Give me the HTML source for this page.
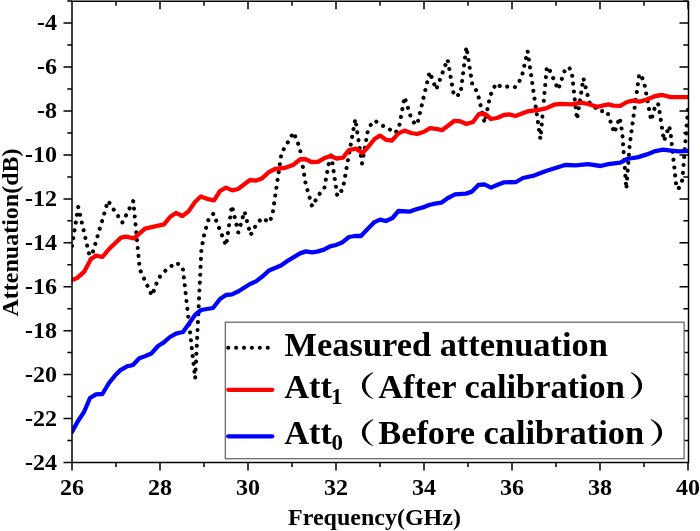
<!DOCTYPE html>
<html><head><meta charset="utf-8"><title>Attenuation</title>
<style>
html,body{margin:0;padding:0;background:#fff;}
svg{display:block;}
text{font-family:"Liberation Serif","Noto Serif CJK SC",serif;font-weight:bold;fill:#000;}
.tk{font-size:24px;}
.lg{font-size:34.4px;}
.sub{font-size:23px;}
.cj{font-family:"Noto Serif CJK SC","Liberation Serif",serif;font-weight:bold;font-size:34px;}
</style></head><body>
<svg width="700" height="531" viewBox="0 0 700 531">
<rect width="700" height="531" fill="#fff"/>
<defs><clipPath id="pa"><rect x="72" y="0" width="616" height="463"/></clipPath></defs>
<g clip-path="url(#pa)">

<polyline points="72.0,246.0 78.2,207.0 90.5,260.0 108.0,200.8 122.3,222.6 133.3,201.0 139.8,269.5 152.0,295.6 158.3,278.6 163.4,272.4 169.4,267.4 176.6,262.6 182.8,268.0 195.2,378.5 201.4,249.4 204.4,233.6 208.4,220.0 213.4,213.6 226.1,245.6 231.9,205.6 238.3,232.4 244.5,211.5 250.6,235.0 256.6,224.2 262.0,218.0 269.3,222.4 272.4,215.0 281.5,153.0 293.6,132.4 299.8,148.0 305.6,183.6 312.2,206.4 318.4,195.4 324.4,187.6 330.8,152.0 337.3,196.0 342.8,189.0 355.3,119.0 362.0,163.5 367.6,132.0 370.4,125.4 374.6,120.6 382.6,125.6 388.4,128.6 395.0,133.0 398.8,128.6 404.5,97.0 410.6,116.4 414.4,123.4 417.2,124.5 429.6,72.0 436.2,89.5 447.6,59.4 454.0,96.0 460.4,94.4 466.4,47.0 472.4,85.0 477.4,92.0 484.6,122.6 490.0,97.0 492.4,90.0 496.6,83.4 501.0,87.0 507.4,86.6 514.6,87.4 518.8,82.6 522.2,75.0 527.6,51.0 540.4,139.0 546.8,67.0 548.4,67.2 558.2,89.5 564.6,71.0 568.8,67.0 571.8,72.0 577.0,119.5 583.4,78.3 589.4,102.5 599.0,111.0 607.0,111.3 614.3,133.0 619.7,117.5 622.3,133.0 626.3,189.0 629.7,144.6 639.2,74.2 640.4,74.2 644.0,81.7 651.2,120.5 655.8,103.7 658.5,104.5 664.0,141.0 669.1,126.0 670.5,132.2 676.6,188.5 678.6,188.5 682.3,180.2 688.0,109.0" fill="none" stroke="#000" stroke-width="4.1" stroke-linecap="round" stroke-linejoin="round" stroke-dasharray="0.01 7.9"/>
<polyline points="72.0,280.0 77.0,278.0 84.0,272.0 91.0,259.0 96.0,255.6 102.4,257.0 109.0,249.0 121.0,237.6 126.0,236.6 134.0,238.4 145.0,228.6 164.0,224.4 170.0,217.0 176.0,213.0 182.4,216.0 188.4,211.6 195.0,202.0 200.7,196.5 207.0,198.8 214.0,200.4 220.0,191.0 226.0,187.6 232.4,190.4 238.0,189.0 250.0,180.0 256.0,180.6 262.0,178.4 269.0,172.0 275.0,169.0 286.0,167.6 293.0,165.0 300.0,159.5 305.0,159.0 311.5,162.0 318.0,161.8 324.0,158.3 330.5,156.0 336.5,158.5 343.0,157.6 349.0,150.0 356.0,148.6 362.5,153.0 368.5,146.5 374.5,139.0 380.0,135.6 386.0,139.8 392.0,140.5 398.5,133.4 404.4,130.6 411.0,133.0 417.0,134.0 423.6,132.0 430.0,128.2 436.0,128.8 442.0,130.2 448.0,125.8 454.0,121.0 460.0,121.2 466.5,124.0 473.0,122.0 479.0,114.0 485.0,114.0 491.0,119.0 497.0,118.0 504.0,115.0 509.0,114.4 515.5,116.0 528.0,111.3 540.5,109.5 546.0,108.4 554.0,104.7 561.0,103.8 572.0,104.4 581.0,102.6 588.0,104.0 597.0,106.8 608.3,104.4 613.4,105.7 620.3,105.8 627.0,102.0 633.0,100.6 639.5,101.6 646.9,99.5 655.4,96.0 662.3,95.0 670.9,97.1 688.0,97.1" fill="none" stroke="#ff0000" stroke-width="4.3" stroke-linecap="round" stroke-linejoin="round"/>
<polyline points="72.0,432.0 78.0,421.0 84.0,412.0 90.0,398.0 96.0,394.4 102.4,394.0 109.0,383.0 115.0,375.6 120.0,370.4 127.0,366.4 133.0,365.0 139.3,358.2 145.5,356.0 151.3,353.6 158.0,346.0 163.5,342.7 170.0,337.0 176.0,333.6 183.0,332.0 188.0,325.0 195.0,315.0 201.0,310.0 213.0,308.0 220.0,299.0 226.0,295.0 232.0,294.4 239.0,291.0 250.0,284.0 256.0,281.4 263.0,276.0 269.0,270.4 281.0,265.4 288.0,260.6 300.0,253.4 306.0,251.4 312.0,252.4 318.0,251.4 324.0,249.6 330.0,246.4 336.0,245.0 342.0,242.6 349.0,237.0 355.0,236.0 361.0,236.0 367.0,229.6 374.0,222.4 380.0,219.6 386.0,221.0 392.5,218.0 398.4,211.0 410.0,211.6 417.0,209.0 423.0,207.4 429.0,205.0 435.0,203.6 441.6,202.6 448.0,198.0 455.0,194.4 466.0,193.6 472.0,191.6 478.4,185.0 484.4,184.4 491.0,187.6 497.0,185.0 503.6,182.4 516.0,182.0 523.0,178.0 534.0,175.6 546.0,171.0 565.0,165.0 576.0,165.4 588.0,164.2 600.6,166.0 608.3,164.2 620.3,162.7 627.1,159.0 638.3,157.1 646.9,154.4 655.4,151.1 663.1,149.7 670.9,150.6 679.4,151.4 688.0,150.9" fill="none" stroke="#0000ff" stroke-width="4.3" stroke-linecap="round" stroke-linejoin="round"/>
</g>
<path d="M72.0,1.25H688.5V462.5H72.0ZM72.0,462.5h-8.5M688.0,462.5h-8.5M72.0,440.5h-4.7M688.0,440.5h-4.7M72.0,418.6h-8.5M688.0,418.6h-8.5M72.0,396.6h-4.7M688.0,396.6h-4.7M72.0,374.6h-8.5M688.0,374.6h-8.5M72.0,352.6h-4.7M688.0,352.6h-4.7M72.0,330.7h-8.5M688.0,330.7h-8.5M72.0,308.7h-4.7M688.0,308.7h-4.7M72.0,286.7h-8.5M688.0,286.7h-8.5M72.0,264.8h-4.7M688.0,264.8h-4.7M72.0,242.8h-8.5M688.0,242.8h-8.5M72.0,220.8h-4.7M688.0,220.8h-4.7M72.0,198.9h-8.5M688.0,198.9h-8.5M72.0,176.9h-4.7M688.0,176.9h-4.7M72.0,154.9h-8.5M688.0,154.9h-8.5M72.0,133.0h-4.7M688.0,133.0h-4.7M72.0,111.0h-8.5M688.0,111.0h-8.5M72.0,89.0h-4.7M688.0,89.0h-4.7M72.0,67.0h-8.5M688.0,67.0h-8.5M72.0,45.1h-4.7M688.0,45.1h-4.7M72.0,23.1h-8.5M688.0,23.1h-8.5M72.0,1.1h-4.7M688.0,1.1h-4.7M72.0,462.5v8M72.0,1.25v8M116.0,462.5v4.5M116.0,1.25v4.5M160.0,462.5v8M160.0,1.25v8M204.0,462.5v4.5M204.0,1.25v4.5M248.0,462.5v8M248.0,1.25v8M292.0,462.5v4.5M292.0,1.25v4.5M336.0,462.5v8M336.0,1.25v8M380.0,462.5v4.5M380.0,1.25v4.5M424.0,462.5v8M424.0,1.25v8M468.0,462.5v4.5M468.0,1.25v4.5M512.0,462.5v8M512.0,1.25v8M556.0,462.5v4.5M556.0,1.25v4.5M600.0,462.5v8M600.0,1.25v8M644.0,462.5v4.5M644.0,1.25v4.5M688.0,462.5v8M688.0,1.25v8" fill="none" stroke="#000" stroke-width="1.5"/>
<text class="tk" x="57" y="469.5" text-anchor="end">-24</text>
<text class="tk" x="57" y="425.6" text-anchor="end">-22</text>
<text class="tk" x="57" y="381.6" text-anchor="end">-20</text>
<text class="tk" x="57" y="337.7" text-anchor="end">-18</text>
<text class="tk" x="57" y="293.7" text-anchor="end">-16</text>
<text class="tk" x="57" y="249.8" text-anchor="end">-14</text>
<text class="tk" x="57" y="205.9" text-anchor="end">-12</text>
<text class="tk" x="57" y="161.9" text-anchor="end">-10</text>
<text class="tk" x="57" y="118.0" text-anchor="end">-8</text>
<text class="tk" x="57" y="74.0" text-anchor="end">-6</text>
<text class="tk" x="57" y="30.1" text-anchor="end">-4</text>
<text class="tk" x="72.0" y="495" text-anchor="middle">26</text>
<text class="tk" x="160.0" y="495" text-anchor="middle">28</text>
<text class="tk" x="248.0" y="495" text-anchor="middle">30</text>
<text class="tk" x="336.0" y="495" text-anchor="middle">32</text>
<text class="tk" x="424.0" y="495" text-anchor="middle">34</text>
<text class="tk" x="512.0" y="495" text-anchor="middle">36</text>
<text class="tk" x="600.0" y="495" text-anchor="middle">38</text>
<text class="tk" x="688.0" y="495" text-anchor="middle">40</text>
<text class="tk" x="374.5" y="524.5" text-anchor="middle">Frequency(GHz)</text>
<text class="tk" transform="translate(18,232.5) rotate(-90)" text-anchor="middle">Attenuation(dB)</text>
<rect x="225.3" y="322.2" width="458.8" height="136.5" fill="#fff" stroke="#666" stroke-width="1.25"/>
<line x1="228.2" y1="347.7" x2="270" y2="347.7" stroke="#000" stroke-width="4.1" stroke-linecap="round" stroke-dasharray="0.01 7.9"/>
<line x1="228.25" y1="389.8" x2="272.25" y2="389.8" stroke="#ff0000" stroke-width="4.3" stroke-linecap="round"/>
<line x1="228.25" y1="436.3" x2="272.25" y2="436.3" stroke="#0000ff" stroke-width="4.3" stroke-linecap="round"/>
<text class="lg" x="284.6" y="355.5">Measured attenuation</text>
<text class="lg" x="284.2" y="397.6">Att<tspan class="sub" x="331" dy="6.6">1</tspan></text>
<text class="cj" transform="translate(337.4,397.4) scale(1.12,0.83)">（</text>
<text class="lg" x="378.2" y="397.6">After calibration</text>
<text class="cj" transform="translate(628.6,397.4) scale(1.12,0.83)">）</text>
<text class="lg" x="284.2" y="444.4">Att<tspan class="sub" x="331.4" dy="5.8">0</tspan></text>
<text class="cj" transform="translate(337.4,444.2) scale(1.12,0.83)">（</text>
<text class="lg" x="378.2" y="444.4">Before calibration</text>
<text class="cj" transform="translate(648.6,444.2) scale(1.12,0.83)">）</text>
</svg></body></html>
